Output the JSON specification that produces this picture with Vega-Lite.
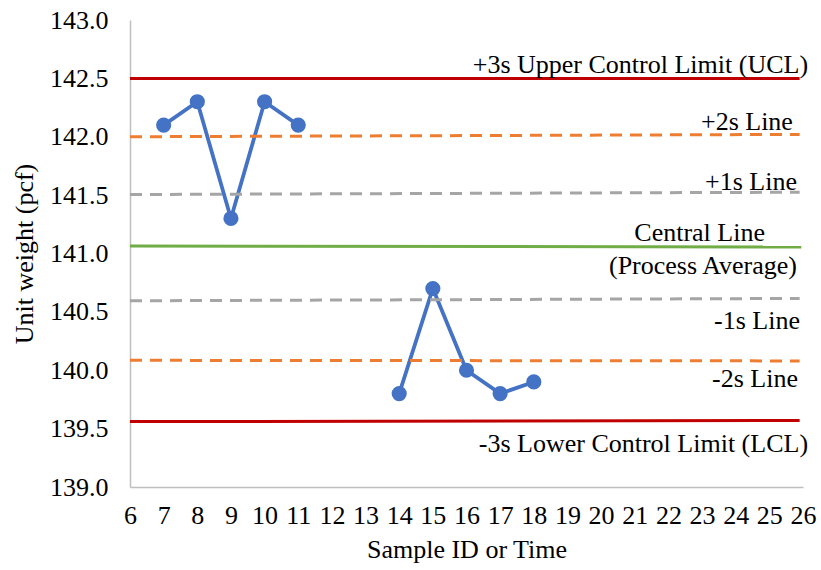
{
  "$schema": "https://vega.github.io/schema/vega-lite/v6.json",
  "width": 673,
  "height": 467,
  "autosize": {"type": "none"},
  "padding": {"left": 130, "top": 20, "right": 18, "bottom": 83},
  "background": "white",
  "config": {
    "view": {"stroke": null},
    "font": "Liberation Serif",
    "axis": {"labelFont": "Liberation Serif", "titleFont": "Liberation Serif", "labelColor": "#000000", "titleColor": "#000000", "labelFontSize": 26, "titleFontSize": 26, "titleFontWeight": "normal", "grid": false, "ticks": false, "domainColor": "#BFBFBF", "domainWidth": 1.5}
  },
  "datasets": {
    "samples": [
      {"sample": 7, "weight": 142.1, "run": "a"},
      {"sample": 8, "weight": 142.3, "run": "a"},
      {"sample": 9, "weight": 141.3, "run": "a"},
      {"sample": 10, "weight": 142.3, "run": "a"},
      {"sample": 11, "weight": 142.1, "run": "a"},
      {"sample": 14, "weight": 139.8, "run": "b"},
      {"sample": 15, "weight": 140.7, "run": "b"},
      {"sample": 16, "weight": 140.0, "run": "b"},
      {"sample": 17, "weight": 139.8, "run": "b"},
      {"sample": 18, "weight": 139.9, "run": "b"}
    ],
    "limits": [
      {"sigma": "+3", "x1": 6, "x2": 25.9, "y1": 142.5, "y2": 142.5},
      {"sigma": "+2", "x1": 6, "x2": 25.9, "y1": 142.0, "y2": 142.02},
      {"sigma": "+1", "x1": 6, "x2": 25.9, "y1": 141.505, "y2": 141.525},
      {"sigma": "0", "x1": 6, "x2": 25.95, "y1": 141.065, "y2": 141.055},
      {"sigma": "-1", "x1": 6, "x2": 25.9, "y1": 140.595, "y2": 140.615},
      {"sigma": "-2", "x1": 6, "x2": 25.9, "y1": 140.085, "y2": 140.08},
      {"sigma": "-3", "x1": 6, "x2": 25.9, "y1": 139.56, "y2": 139.57}
    ],
    "labels": [
      {"text": "+3s Upper Control Limit (UCL)", "x": 26.15, "y": 142.615},
      {"text": "+2s Line", "x": 25.7, "y": 142.125},
      {"text": "+1s Line", "x": 25.82, "y": 141.615},
      {"text": "Central Line", "x": 24.87, "y": 141.175},
      {"text": "(Process Average)", "x": 25.82, "y": 140.895},
      {"text": "-1s Line", "x": 25.91, "y": 140.425},
      {"text": "-2s Line", "x": 25.85, "y": 139.925},
      {"text": "-3s Lower Control Limit (LCL)", "x": 26.15, "y": 139.37}
    ]
  },
  "layer": [
    {
      "data": {"name": "samples"},
      "mark": {"type": "line", "color": "#4472C4", "strokeWidth": 3.8, "point": {"filled": true, "size": 230, "color": "#4472C4"}},
      "encoding": {
        "x": {"field": "sample", "type": "quantitative", "scale": {"domain": [6, 26], "nice": false}, "axis": {"title": "Sample ID or Time", "tickCount": 20, "labelOverlap": false, "labelPadding": 15, "titlePadding": 8, "labelFlush": false}},
        "y": {"field": "weight", "type": "quantitative", "scale": {"domain": [139, 143], "nice": false, "zero": false}, "axis": {"title": "Unit weight (pcf)", "tickCount": 8, "labelOverlap": false, "format": ".1f", "labelPadding": 22, "titlePadding": 12, "labelFlush": false}},
        "detail": {"field": "run", "type": "nominal"}
      }
    },
    {
      "data": {"name": "limits"},
      "transform": [{"filter": "datum.sigma == '+3' || datum.sigma == '-3' || datum.sigma == '0'"}],
      "mark": {"type": "rule", "strokeWidth": 3},
      "encoding": {
        "x": {"field": "x1", "type": "quantitative"},
        "x2": {"field": "x2"},
        "y": {"field": "y1", "type": "quantitative"},
        "y2": {"field": "y2"},
        "color": {"field": "sigma", "type": "nominal", "legend": null, "scale": {"domain": ["+3", "+2", "+1", "0", "-1", "-2", "-3"], "range": ["#C00000", "#ED7D31", "#A5A5A5", "#70AD47", "#A5A5A5", "#ED7D31", "#C00000"]}}
      }
    },
    {
      "data": {"name": "limits"},
      "transform": [{"filter": "datum.sigma == '+2' || datum.sigma == '-2' || datum.sigma == '+1' || datum.sigma == '-1'"}],
      "mark": {"type": "rule", "strokeWidth": 3, "strokeDash": [12, 8]},
      "encoding": {
        "x": {"field": "x1", "type": "quantitative"},
        "x2": {"field": "x2"},
        "y": {"field": "y1", "type": "quantitative"},
        "y2": {"field": "y2"},
        "color": {"field": "sigma", "type": "nominal", "legend": null}
      }
    },
    {
      "data": {"name": "labels"},
      "mark": {"type": "text", "align": "right", "baseline": "middle", "font": "Liberation Serif", "fontSize": 26, "color": "#000000"},
      "encoding": {
        "x": {"field": "x", "type": "quantitative"},
        "y": {"field": "y", "type": "quantitative"},
        "text": {"field": "text", "type": "nominal"}
      }
    }
  ]
}
